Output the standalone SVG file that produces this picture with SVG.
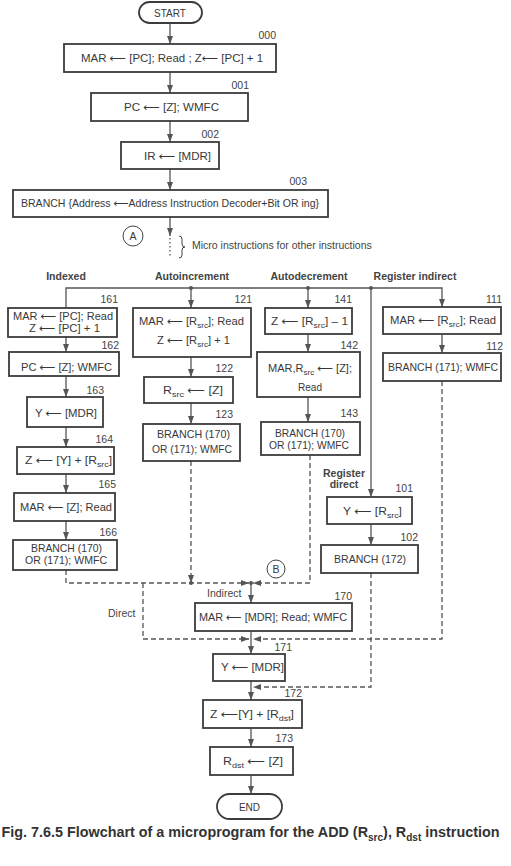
<svg xmlns="http://www.w3.org/2000/svg" width="511" height="866" viewBox="0 0 511 866">
<style>
.bg{fill:#ffffff}
.box{fill:#ffffff;stroke:#3c3c3c;stroke-width:1.8}
.t{font-family:"Liberation Sans",Arial,"DejaVu Sans",sans-serif;font-size:11px;fill:#383838;text-anchor:middle}
.s{font-size:8px}
.n{font-family:"Liberation Sans",Arial,sans-serif;font-size:10.5px;fill:#444;text-anchor:end}
.h{font-family:"Liberation Sans",Arial,sans-serif;font-size:10.5px;font-weight:bold;fill:#444;text-anchor:middle}
.l{font-family:"Liberation Sans",Arial,sans-serif;font-size:10.5px;fill:#444}
.cap{font-family:"Liberation Sans",Arial,sans-serif;font-size:14.3px;font-weight:bold;fill:#333;text-anchor:middle}
.c path{stroke:#555;stroke-width:1.3;fill:none}
.c .d{stroke-dasharray:5 3}
.c .o{stroke-dasharray:1.5 2.5}
.jd{fill:#555}
.circ{fill:#fff;stroke:#444;stroke-width:1}
</style>
<defs>
<marker id="ah" viewBox="0 0 8 6" refX="8" refY="3" markerWidth="8" markerHeight="6" markerUnits="userSpaceOnUse" orient="auto"><path d="M0,0 L8,3 L0,6 z" fill="#555"/></marker>
</defs>
<rect class="bg" x="0" y="0" width="511" height="866"/>

<g id="connectors" class="c">
<path d="M170,23 V44" marker-end="url(#ah)"/>
<path d="M170,72 V93" marker-end="url(#ah)"/>
<path d="M170,121 V142" marker-end="url(#ah)"/>
<path d="M170,169 V190" marker-end="url(#ah)"/>
<path d="M170,217 V236" marker-end="url(#ah)"/>
<path class="o" d="M170,238 V258"/>
<path d="M66,308 V288 H442 V307" marker-end="url(#ah)"/>
<path d="M191,288 V308" marker-end="url(#ah)"/>
<path d="M308,288 V308" marker-end="url(#ah)"/>
<path d="M371,288 V497" marker-end="url(#ah)"/>
<path d="M66,337 V352" marker-end="url(#ah)"/>
<path d="M66,376 V397" marker-end="url(#ah)"/>
<path d="M66,427 V447" marker-end="url(#ah)"/>
<path d="M66,474 V493" marker-end="url(#ah)"/>
<path d="M66,521 V540" marker-end="url(#ah)"/>
<path d="M191,357 V377" marker-end="url(#ah)"/>
<path d="M191,403 V424" marker-end="url(#ah)"/>
<path d="M308,334 V352" marker-end="url(#ah)"/>
<path d="M308,397 V422" marker-end="url(#ah)"/>
<path d="M442,334 V353" marker-end="url(#ah)"/>
<path d="M371,524 V545" marker-end="url(#ah)"/>
<path class="d" d="M66,570 V583 H249" marker-end="url(#ah)"/>
<path class="d" d="M191,461 V583" marker-end="url(#ah)"/>
<path class="d" d="M310,455 V583 H253" marker-end="url(#ah)"/>
<path class="d" d="M143,583 V639 H249" marker-end="url(#ah)"/>
<path class="d" d="M442,381 V639 H253" marker-end="url(#ah)"/>
<path class="d" d="M371,573 V687 H253" marker-end="url(#ah)"/>
<path d="M251,583 V603" marker-end="url(#ah)"/>
<path d="M251,631 V654" marker-end="url(#ah)"/>
<path d="M251,681 V700" marker-end="url(#ah)"/>
<path d="M251,728 V747" marker-end="url(#ah)"/>
<path d="M251,775 V794" marker-end="url(#ah)"/>
<circle class="jd" cx="191" cy="288" r="2"/>
<circle class="jd" cx="308" cy="288" r="2"/>
<circle class="jd" cx="371" cy="288" r="2"/>
<circle class="jd" cx="191" cy="583" r="2"/>
<circle class="jd" cx="251" cy="583" r="2"/>
<path d="M179,236 q3,0 3,3 v5 q0,3 3,3 q-3,0 -3,3 v5 q0,3 -3,3" style="stroke:#444;stroke-width:1"/>
</g>

<g id="start"><rect class="box" x="139" y="2" width="63" height="21" rx="10.5"/><text class="t" x="170" y="16.5" style="font-size:10px">START</text></g>

<g id="n000"><rect class="box" x="64" y="44" width="212" height="28"/><text class="n" x="276" y="39">000</text>
<text class="t" x="172" y="62" textLength="182" lengthAdjust="spacingAndGlyphs">MAR ⟵ [PC]; Read ;  Z⟵ [PC] + 1</text></g>

<g id="n001"><rect class="box" x="91" y="93" width="157" height="28"/><text class="n" x="249" y="89">001</text>
<text class="t" x="171.5" y="110.5" textLength="95" lengthAdjust="spacingAndGlyphs">PC ⟵ [Z];  WMFC</text></g>

<g id="n002"><rect class="box" x="121" y="142" width="98" height="27"/><text class="n" x="219" y="138">002</text>
<text class="t" x="177.5" y="160" textLength="67" lengthAdjust="spacingAndGlyphs">IR ⟵ [MDR]</text></g>

<g id="n003"><rect class="box" x="13" y="190" width="315" height="27"/><text class="n" x="307" y="185">003</text>
<text class="t" x="170" y="207" textLength="298" lengthAdjust="spacingAndGlyphs">BRANCH {Address ⟵Address Instruction Decoder+Bit OR ing}</text></g>

<g id="connA"><circle class="circ" cx="133" cy="236" r="10"/><text class="t" x="133" y="240" style="font-size:10.5px">A</text></g>
<g id="note"><text class="l" x="192" y="249">Micro instructions for other instructions</text></g>

<g id="headers">
<text class="h" x="66" y="280">Indexed</text>
<text class="h" x="192" y="280">Autoincrement</text>
<text class="h" x="309" y="280">Autodecrement</text>
<text class="h" x="415" y="280">Register indirect</text>
<text class="h" x="344" y="477">Register</text>
<text class="h" x="344" y="488">direct</text>
</g>

<g id="n161"><rect class="box" x="8" y="308" width="109" height="29"/><text class="n" x="118" y="303">161</text>
<text class="t" x="63" y="320" textLength="100" lengthAdjust="spacingAndGlyphs">MAR ⟵ [PC]; Read</text>
<text class="t" x="64.5" y="332" textLength="71" lengthAdjust="spacingAndGlyphs">Z ⟵ [PC] + 1</text></g>

<g id="n162"><rect class="box" x="9" y="352" width="110" height="24"/><text class="n" x="119" y="349">162</text>
<text class="t" x="66.5" y="371" textLength="91" lengthAdjust="spacingAndGlyphs">PC ⟵ [Z]; WMFC</text></g>

<g id="n163"><rect class="box" x="27" y="397" width="76" height="30"/><text class="n" x="104" y="394">163</text>
<text class="t" x="66" y="417" textLength="62" lengthAdjust="spacingAndGlyphs">Y ⟵ [MDR]</text></g>

<g id="n164"><rect class="box" x="17" y="447" width="97" height="27"/><text class="n" x="113" y="443">164</text>
<text class="t" x="68.5" y="464" textLength="87" lengthAdjust="spacingAndGlyphs">Z ⟵ [Y] + [R<tspan class="s" dy="2.5">src</tspan><tspan dy="-2.5">]</tspan></text></g>

<g id="n165"><rect class="box" x="14" y="493" width="101" height="28"/><text class="n" x="116" y="488">165</text>
<text class="t" x="66" y="511" textLength="92" lengthAdjust="spacingAndGlyphs">MAR ⟵ [Z]; Read</text></g>

<g id="n166"><rect class="box" x="13" y="540" width="104" height="30"/><text class="n" x="117" y="536">166</text>
<text class="t" x="66.5" y="552" textLength="71" lengthAdjust="spacingAndGlyphs">BRANCH (170)</text>
<text class="t" x="66" y="564" textLength="82" lengthAdjust="spacingAndGlyphs">OR (171); WMFC</text></g>

<g id="n121"><rect class="box" x="133" y="308" width="118" height="49"/><text class="n" x="252" y="303">121</text>
<text class="t" x="191.5" y="325" textLength="105" lengthAdjust="spacingAndGlyphs">MAR ⟵ [R<tspan class="s" dy="2.5">src</tspan><tspan dy="-2.5">]; Read</tspan></text>
<text class="t" x="193.5" y="344" textLength="73" lengthAdjust="spacingAndGlyphs">Z ⟵ [R<tspan class="s" dy="2.5">src</tspan><tspan dy="-2.5">] + 1</tspan></text></g>

<g id="n122"><rect class="box" x="144" y="377" width="89" height="26"/><text class="n" x="233" y="372">122</text>
<text class="t" x="193" y="394" textLength="60" lengthAdjust="spacingAndGlyphs">R<tspan class="s" dy="2.5">src</tspan><tspan dy="-2.5"> ⟵ [Z]</tspan></text></g>

<g id="n123"><rect class="box" x="143" y="424" width="97" height="37"/><text class="n" x="233" y="418">123</text>
<text class="t" x="193.5" y="438" textLength="73" lengthAdjust="spacingAndGlyphs">BRANCH (170)</text>
<text class="t" x="192" y="453" textLength="80" lengthAdjust="spacingAndGlyphs">OR (171); WMFC</text></g>

<g id="n141"><rect class="box" x="265" y="308" width="87" height="26"/><text class="n" x="352" y="303">141</text>
<text class="t" x="309.5" y="325" textLength="77" lengthAdjust="spacingAndGlyphs">Z ⟵ [R<tspan class="s" dy="2.5">src</tspan><tspan dy="-2.5">] – 1</tspan></text></g>

<g id="n142"><rect class="box" x="257" y="352" width="103" height="45"/><text class="n" x="358" y="349">142</text>
<text class="t" x="310" y="372" textLength="84" lengthAdjust="spacingAndGlyphs">MAR,R<tspan class="s" dy="2.5">src</tspan><tspan dy="-2.5"> ⟵ [Z];</tspan></text>
<text class="t" x="310" y="391" textLength="24" lengthAdjust="spacingAndGlyphs">Read</text></g>

<g id="n143"><rect class="box" x="261" y="422" width="99" height="33"/><text class="n" x="358" y="417">143</text>
<text class="t" x="310" y="437" textLength="70" lengthAdjust="spacingAndGlyphs">BRANCH (170)</text>
<text class="t" x="309" y="449" textLength="80" lengthAdjust="spacingAndGlyphs">OR (171); WMFC</text></g>

<g id="n111"><rect class="box" x="383" y="307" width="118" height="27"/><text class="n" x="502" y="303">111</text>
<text class="t" x="443" y="324" textLength="106" lengthAdjust="spacingAndGlyphs">MAR ⟵ [R<tspan class="s" dy="2.5">src</tspan><tspan dy="-2.5">]; Read</tspan></text></g>

<g id="n112"><rect class="box" x="383" y="353" width="118" height="28"/><text class="n" x="503" y="350">112</text>
<text class="t" x="443" y="371" textLength="110" lengthAdjust="spacingAndGlyphs">BRANCH (171); WMFC</text></g>

<g id="n101"><rect class="box" x="327" y="497" width="85" height="27"/><text class="n" x="413" y="492">101</text>
<text class="t" x="372.5" y="515" textLength="59" lengthAdjust="spacingAndGlyphs">Y ⟵ [R<tspan class="s" dy="2.5">src</tspan><tspan dy="-2.5">]</tspan></text></g>

<g id="n102"><rect class="box" x="321" y="545" width="97" height="28"/><text class="n" x="418" y="541">102</text>
<text class="t" x="370" y="563" textLength="72" lengthAdjust="spacingAndGlyphs">BRANCH (172)</text></g>

<g id="connB"><circle class="circ" cx="276" cy="569" r="9"/><text class="t" x="276" y="573" style="font-size:10.5px">B</text></g>
<g id="labels"><text class="l" x="207" y="597">Indirect</text><text class="l" x="108" y="617">Direct</text></g>

<g id="n170"><rect class="box" x="195" y="603" width="157" height="28"/><text class="n" x="352" y="600">170</text>
<text class="t" x="273" y="621" textLength="148" lengthAdjust="spacingAndGlyphs">MAR ⟵ [MDR]; Read; WMFC</text></g>

<g id="n171"><rect class="box" x="213" y="654" width="72" height="27"/><text class="n" x="292" y="651">171</text>
<text class="t" x="252.5" y="671" textLength="63" lengthAdjust="spacingAndGlyphs">Y ⟵ [MDR]</text></g>

<g id="n172"><rect class="box" x="203" y="700" width="99" height="28"/><text class="n" x="302" y="697">172</text>
<text class="t" x="252" y="718" textLength="84" lengthAdjust="spacingAndGlyphs">Z ⟵[Y] + [R<tspan class="s" dy="2.5">dst</tspan><tspan dy="-2.5">]</tspan></text></g>

<g id="n173"><rect class="box" x="210" y="747" width="83" height="28"/><text class="n" x="293" y="742">173</text>
<text class="t" x="253" y="765" textLength="60" lengthAdjust="spacingAndGlyphs">R<tspan class="s" dy="2.5">dst</tspan><tspan dy="-2.5"> ⟵ [Z]</tspan></text></g>

<g id="end"><rect class="box" x="217" y="794" width="65" height="25" rx="12.5"/><text class="t" x="249.5" y="810.5" style="font-size:10px">END</text></g>

<g id="caption"><text class="cap" x="250.5" y="837" textLength="498" lengthAdjust="spacingAndGlyphs">Fig. 7.6.5 Flowchart of a microprogram for the ADD (R<tspan style="font-size:10px" dy="3.5">src</tspan><tspan dy="-3.5">), R</tspan><tspan style="font-size:10px" dy="3.5">dst</tspan><tspan dy="-3.5"> instruction</tspan></text></g>
</svg>
